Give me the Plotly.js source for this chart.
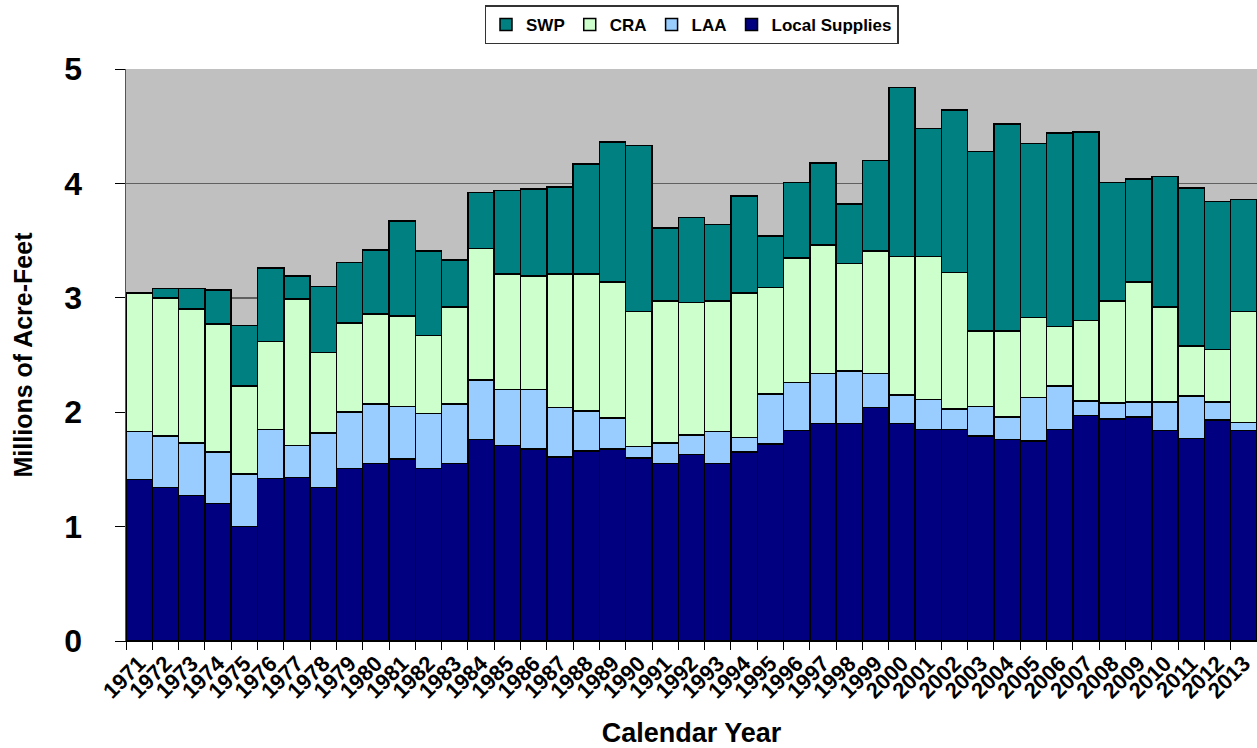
<!DOCTYPE html>
<html><head><meta charset="utf-8">
<script src="https://cdn.plot.ly/plotly-3.0.1.min.js"></script>
<style>html,body{margin:0;padding:0;background:#fff}#chart{width:1257px;height:748px}</style>
</head><body><div id="chart"></div>
<script>
var years = ["1971","1972","1973","1974","1975","1976","1977","1978","1979","1980","1981","1982","1983","1984","1985","1986","1987","1988","1989","1990","1991","1992","1993","1994","1995","1996","1997","1998","1999","2000","2001","2002","2003","2004","2005","2006","2007","2008","2009","2010","2011","2012","2013"];
var localSupplies = [1.41,1.34,1.27,1.20,1.00,1.42,1.43,1.34,1.51,1.55,1.59,1.51,1.55,1.76,1.71,1.68,1.61,1.66,1.68,1.60,1.55,1.63,1.55,1.65,1.72,1.84,1.90,1.90,2.04,1.90,1.85,1.85,1.79,1.76,1.75,1.85,1.97,1.94,1.96,1.84,1.77,1.93,1.84];
var laa = [0.42,0.45,0.46,0.45,0.46,0.43,0.28,0.48,0.49,0.52,0.46,0.48,0.52,0.52,0.49,0.52,0.43,0.35,0.27,0.10,0.18,0.17,0.28,0.13,0.44,0.42,0.44,0.46,0.30,0.25,0.26,0.18,0.26,0.20,0.38,0.38,0.13,0.14,0.13,0.25,0.37,0.16,0.07];
var cra = [1.21,1.21,1.17,1.12,0.77,0.77,1.28,0.70,0.78,0.79,0.79,0.68,0.85,1.15,1.01,0.99,1.17,1.20,1.19,1.18,1.24,1.16,1.14,1.26,0.93,1.09,1.12,0.94,1.07,1.21,1.25,1.19,0.66,0.75,0.70,0.52,0.70,0.89,1.05,0.83,0.44,0.46,0.97];
var swp = [0.00,0.08,0.18,0.30,0.53,0.64,0.20,0.58,0.53,0.56,0.83,0.74,0.41,0.49,0.73,0.76,0.76,0.96,1.22,1.45,0.64,0.74,0.67,0.85,0.45,0.66,0.72,0.52,0.79,1.48,1.12,1.42,1.57,1.81,1.52,1.69,1.65,1.04,0.90,1.14,1.38,1.29,0.98];
var yTicks = [0,1,2,3,4,5];

var edge = {color:'#000000', width:1.5};
function tr(name, vals, color){
  return {type:'bar', name:name, x:years, y:vals, marker:{color:color, line:edge}, hoverinfo:'x+y+name'};
}
var data = [
  tr('Local Supplies', localSupplies, '#000080'),
  tr('LAA', laa, '#99CCFF'),
  tr('CRA', cra, '#CCFFCC'),
  tr('SWP', swp, '#008080')
];
var F = 'Arial, "Liberation Sans", sans-serif';
var layout = {
  width:1257, height:748,
  margin:{l:126, r:0, t:69, b:107, pad:0},
  paper_bgcolor:'#ffffff', plot_bgcolor:'#c0c0c0',
  barmode:'stack', bargap:0,
  showlegend:true,
  legend:{orientation:'h', traceorder:'reversed', x:0.5, xref:'paper', xanchor:'center', y:1.043, yanchor:'bottom',
    bgcolor:'#ffffff', bordercolor:'#333333', borderwidth:1.5,
    font:{family:F, size:17, color:'#000000', weight:'bold'}},
  font:{family:F, color:'#000000'},
  xaxis:{type:'category', tickmode:'array', tickvals:years, ticktext:years, tickangle:-45, tickson:'boundaries',
    ticks:'outside', ticklen:8, tickcolor:'#000000',
    tickfont:{family:F, size:22, color:'#000000', weight:'bold'},
    showline:true, linecolor:'#000000', linewidth:1, showgrid:false,
    title:{text:'<b>Calendar Year</b>', font:{family:F, size:27, color:'#000000'}, standoff:20}},
  yaxis:{range:[0,5], tickvals:yTicks, ticks:'outside', ticklen:10, tickcolor:'#000000',
    ticklabelstandoff:26,
    tickfont:{family:F, size:32, color:'#000000', weight:'bold'},
    showline:true, linecolor:'#555555', linewidth:1.5,
    showgrid:true, gridcolor:'#606060', gridwidth:1.5, zeroline:false,
    title:{text:'<b>Millions of Acre-Feet</b>', font:{family:F, size:25, color:'#000000'}, standoff:24}}
};
Plotly.newPlot('chart', data, layout, {displayModeBar:false, staticPlot:true});
</script>
</body></html>
